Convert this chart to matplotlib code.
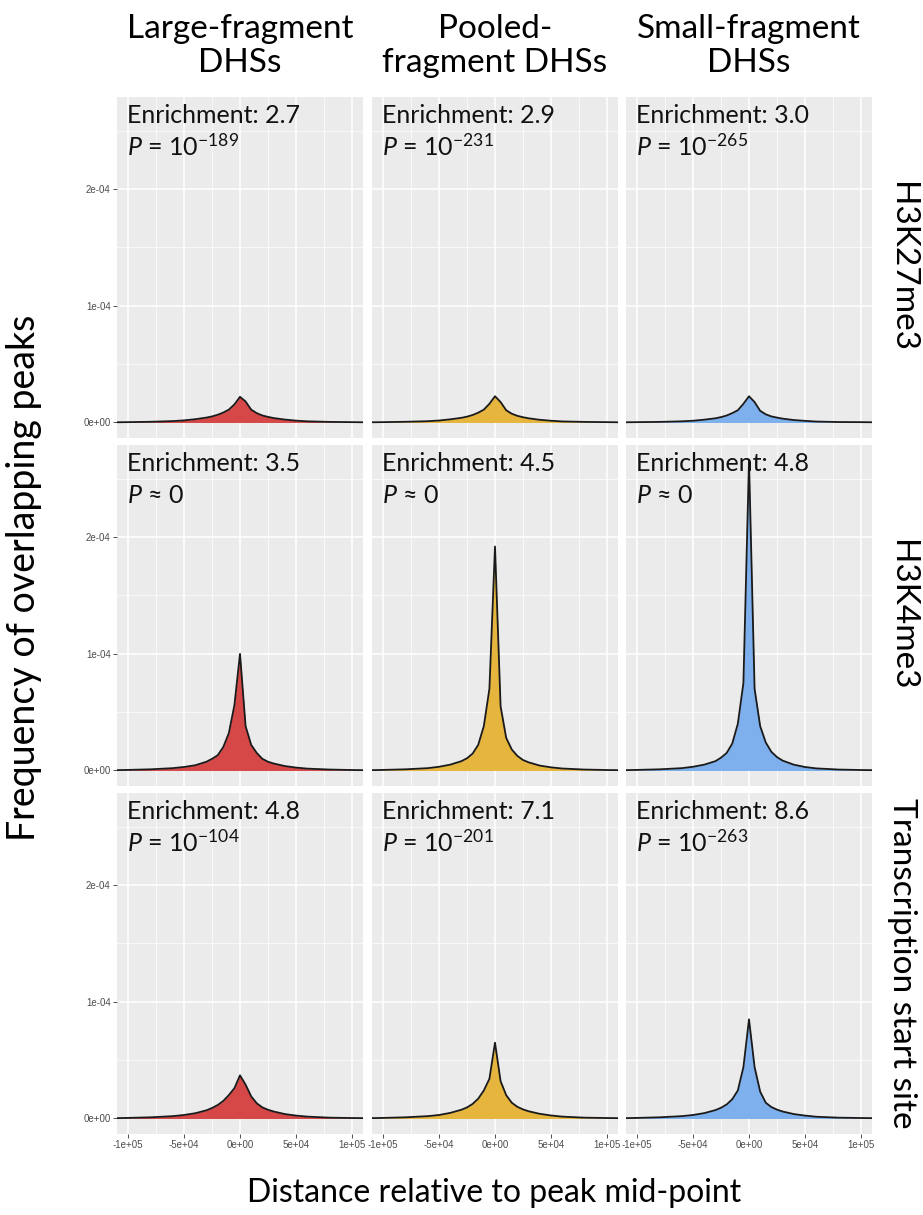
import matplotlib
matplotlib.use("Agg")
import matplotlib.pyplot as plt
from matplotlib.ticker import FixedLocator, FixedFormatter

plt.rcParams['font.family'] = ['Lato', 'DejaVu Sans']
plt.rcParams['mathtext.fontset'] = 'custom'
plt.rcParams['mathtext.rm'] = 'Lato'
plt.rcParams['mathtext.it'] = 'Lato:italic'

# data (frequency in units of 1e-5, distance in kb)
col_titles = ['Large-fragment\nDHSs', 'Pooled-\nfragment DHSs', 'Small-fragment\nDHSs']
row_titles = ['H3K27me3', 'H3K4me3', 'Transcription start site']
colors = ['#D64848', '#E5B53E', '#7DB0EC']

dist_kb = [-110, -100, -80, -60, -50, -40, -30, -25, -20, -15, -10, -5, 0,
           5, 10, 15, 20, 25, 30, 40, 50, 60, 80, 100, 110]

k27_large = [0.02, 0.03, 0.06, 0.12, 0.18, 0.28, 0.42, 0.52, 0.66, 0.85, 1.1, 1.55, 2.2,
             1.8, 1.1, 0.8, 0.6, 0.48, 0.38, 0.25, 0.16, 0.1, 0.05, 0.03, 0.02]
k27_pooled = [0.02, 0.03, 0.06, 0.11, 0.17, 0.27, 0.40, 0.50, 0.64, 0.84, 1.1, 1.6, 2.25,
              1.75, 1.05, 0.75, 0.57, 0.45, 0.36, 0.23, 0.15, 0.09, 0.05, 0.03, 0.02]
k27_small = [0.02, 0.03, 0.05, 0.10, 0.15, 0.24, 0.36, 0.46, 0.60, 0.80, 1.05, 1.6, 2.25,
             1.75, 1.0, 0.7, 0.52, 0.42, 0.33, 0.21, 0.14, 0.08, 0.04, 0.03, 0.02]

k4_large = [0.03, 0.05, 0.1, 0.2, 0.3, 0.45, 0.75, 1.0, 1.3, 2.0, 3.2, 5.6, 10.0,
            3.8, 2.2, 1.5, 1.0, 0.75, 0.6, 0.38, 0.25, 0.16, 0.08, 0.04, 0.03]
k4_pooled = [0.03, 0.05, 0.1, 0.2, 0.32, 0.5, 0.8, 1.05, 1.45, 2.2, 3.8, 7.0, 19.2,
             5.5, 2.8, 1.8, 1.25, 0.9, 0.7, 0.42, 0.27, 0.17, 0.08, 0.04, 0.03]
k4_small = [0.03, 0.05, 0.1, 0.2, 0.32, 0.5, 0.8, 1.1, 1.5, 2.3, 4.0, 7.5, 26.6,
            7.0, 3.8, 2.4, 1.6, 1.15, 0.85, 0.5, 0.3, 0.18, 0.08, 0.04, 0.03]

tss_large = [0.03, 0.05, 0.1, 0.2, 0.3, 0.45, 0.7, 0.9, 1.15, 1.5, 2.0, 2.6, 3.7,
             2.9, 1.9, 1.3, 0.95, 0.75, 0.6, 0.38, 0.25, 0.16, 0.07, 0.04, 0.03]
tss_pooled = [0.03, 0.05, 0.1, 0.2, 0.3, 0.48, 0.75, 0.95, 1.25, 1.7, 2.4, 3.4, 6.5,
              3.2, 2.0, 1.35, 1.0, 0.78, 0.62, 0.4, 0.26, 0.16, 0.07, 0.04, 0.03]
tss_small = [0.03, 0.05, 0.1, 0.2, 0.3, 0.46, 0.72, 0.92, 1.2, 1.65, 2.4, 4.4, 8.5,
             4.4, 2.3, 1.35, 0.98, 0.76, 0.6, 0.38, 0.25, 0.15, 0.07, 0.04, 0.03]

profiles = [[k27_large, k27_pooled, k27_small],
            [k4_large, k4_pooled, k4_small],
            [tss_large, tss_pooled, tss_small]]

enrichment = [['2.7', '2.9', '3.0'],
              ['3.5', '4.5', '4.8'],
              ['4.8', '7.1', '8.6']]
p_exp = [['-189', '-231', '-265'],
         [None, None, None],
         ['-104', '-201', '-263']]

x_ticks = [-100000, -50000, 0, 50000, 100000]
x_ticklabels = ['-1e+05', '-5e+04', '0e+00', '5e+04', '1e+05']
y_ticks = [0, 1e-4, 2e-4]
y_ticklabels = ['0e+00', '1e-04', '2e-04']

W, H = 923, 1215
fig = plt.figure(figsize=(W / 100, H / 100), dpi=100)

col_left = [117, 372, 626]
row_top = [97, 445, 793]
pw, ph = 246, 341

dist = [d * 1000 for d in dist_kb]

for r in range(3):
    for c in range(3):
        ax = fig.add_axes([col_left[c] / W, 1 - (row_top[r] + ph) / H, pw / W, ph / H])
        ax.set_facecolor('#EBEBEB')
        freq = [v * 1e-5 for v in profiles[r][c]]
        ax.fill_between(dist, 0, freq, color=colors[c], lw=0, zorder=2)
        ax.plot(dist, freq, color='#1a1a1a', lw=1.3, zorder=3)
        ax.set_xlim(-110000, 110000)
        ax.set_ylim(-0.133e-4, 2.79e-4)

        ax.xaxis.set_major_locator(FixedLocator(x_ticks))
        ax.xaxis.set_minor_locator(FixedLocator([-75000, -25000, 25000, 75000]))
        ax.yaxis.set_major_locator(FixedLocator(y_ticks))
        ax.yaxis.set_minor_locator(FixedLocator([0.5e-4, 1.5e-4, 2.5e-4]))
        ax.grid(which='major', color='white', lw=1.1, zorder=1)
        ax.grid(which='minor', color='white', lw=0.5, zorder=1)
        ax.set_axisbelow(True)
        for s in ax.spines.values():
            s.set_visible(False)
        ax.tick_params(which='minor', length=0)
        ax.tick_params(which='major', length=3, width=0.6, color='#333333',
                       labelsize=7, labelcolor='#4D4D4D', pad=1.5)

        if c == 0:
            ax.yaxis.set_major_formatter(FixedFormatter(y_ticklabels))
            for t in ax.get_yticklabels():
                t.set_family('Liberation Sans')
        else:
            ax.tick_params(axis='y', which='major', length=0, labelleft=False)
        if r == 2:
            ax.xaxis.set_major_formatter(FixedFormatter(x_ticklabels))
            for t in ax.get_xticklabels():
                t.set_family('Liberation Sans')
        else:
            ax.tick_params(axis='x', which='major', length=0, labelbottom=False)

        ax.annotate('Enrichment: ' + enrichment[r][c], xy=(0, 1), xycoords='axes fraction',
                    xytext=(7, -19), textcoords='offset points', va='baseline',
                    fontsize=18, color='#111111', zorder=5)
        if p_exp[r][c] is None:
            p_text = '$\\mathit{P}$ \u2248 0'
        else:
            p_text = '$\\mathit{P}$ = 10$^{' + p_exp[r][c] + '}$'
        ax.annotate(p_text, xy=(0, 1), xycoords='axes fraction',
                    xytext=(7, -42), textcoords='offset points', va='baseline',
                    fontsize=18, color='#111111', zorder=5)

# column headers
for c in range(3):
    fig.text((col_left[c] + pw / 2) / W, 1 - 78 / H, col_titles[c], ha='center', va='bottom',
             fontsize=24, linespacing=1.15)

# row labels
for r in range(3):
    fig.text(902 / W, 1 - (row_top[r] + ph / 2) / H, row_titles[r], ha='center', va='center',
             rotation=-90, fontsize=24)

fig.text(24 / W, 1 - 578 / H, 'Frequency of overlapping peaks', ha='center', va='center',
         rotation=90, fontsize=27)
fig.text((117 + 872) / 2 / W, 1 - 1193 / H, 'Distance relative to peak mid-point',
         ha='center', va='center', fontsize=23)

fig.savefig('out.png', dpi=100)
